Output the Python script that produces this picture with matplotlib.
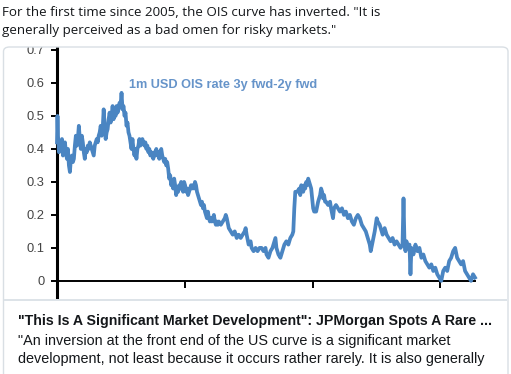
import numpy as np
import matplotlib.pyplot as plt
from matplotlib.patches import FancyBboxPatch, Rectangle

# 1m USD OIS rate 3y fwd - 2y fwd (x in business days from start)
days = [0, 1, 2, 4, 6, 8, 10, 12, 14, 16, 18, 20, 22, 24, 26, 28, 30, 32, 34, 36,
        38, 40, 42, 44, 46, 48, 50, 52, 54, 56, 58, 60, 62, 64, 66, 68, 70, 72, 74, 76,
        78, 80, 82, 84, 86, 88, 90, 92, 94, 96, 98, 100, 102, 104, 106, 108, 110, 112, 114, 116,
        118, 120, 122, 124, 126, 128, 130, 132, 134, 136, 138, 140, 142, 144, 146, 148, 150, 152, 154, 156,
        158, 160, 162, 164, 166, 168, 170, 172, 174, 176, 178, 180, 182, 184, 186, 188, 190, 192, 194, 196,
        198, 200, 202, 204, 206, 208, 210, 212, 214, 216, 218, 220, 222, 224, 226, 228, 230, 232, 234, 236,
        238, 240, 242, 244, 246, 248, 250, 252, 254, 256, 258, 260, 262, 264, 266, 268, 270, 272, 274, 276,
        278, 280, 282, 284, 286, 288, 290, 292, 294, 296, 298, 300, 302, 304, 306, 308, 310, 312, 314, 316,
        318, 320, 322, 324, 326, 330, 334, 338, 340, 342, 346, 350, 354, 358, 362, 366, 370, 374, 378, 380,
        382, 386, 390, 392, 396, 400, 404, 408, 412, 416, 420, 422, 426, 430, 434, 438, 440, 442, 446, 450,
        454, 458, 462, 466, 470, 474, 476, 478, 480, 484, 488, 490, 492, 494, 496, 498, 500, 502, 504, 506,
        508, 510, 512, 514, 516, 518, 522, 526, 530, 532, 534, 536, 538, 540, 542, 546, 550, 552, 556, 558,
        562, 566, 570, 574, 578, 582, 586, 590, 594, 598, 602, 606, 610, 614, 618, 622, 626, 630, 632, 636,
        640, 644, 646, 650, 654, 656, 660, 664, 668, 672, 676, 680, 684, 688, 692, 696, 698, 700, 702, 704,
        706, 710, 712, 714, 718, 722, 726, 730, 734, 738, 742, 746, 750, 754, 758, 762, 766, 770, 774, 778,
        782, 786, 790, 794, 798, 802, 806, 810, 814, 818, 822, 826, 830, 834, 838, 842]
ois = [0.42, 0.50, 0.44, 0.39, 0.42, 0.40, 0.43, 0.38, 0.41, 0.42, 0.39, 0.37, 0.40, 0.35, 0.33, 0.37, 0.38, 0.36, 0.37, 0.41,
       0.44, 0.41, 0.43, 0.47, 0.43, 0.40, 0.44, 0.42, 0.39, 0.37, 0.40, 0.39, 0.41, 0.40, 0.42, 0.41, 0.40, 0.39, 0.38, 0.41,
       0.42, 0.43, 0.42, 0.44, 0.45, 0.47, 0.44, 0.46, 0.52, 0.47, 0.43, 0.45, 0.46, 0.49, 0.51, 0.48, 0.50, 0.53, 0.49, 0.51,
       0.50, 0.53, 0.51, 0.52, 0.54, 0.53, 0.57, 0.52, 0.53, 0.50, 0.51, 0.47, 0.48, 0.45, 0.44, 0.42, 0.40, 0.43, 0.40, 0.38,
       0.40, 0.37, 0.40, 0.41, 0.43, 0.41, 0.42, 0.43, 0.42, 0.41, 0.42, 0.40, 0.41, 0.39, 0.40, 0.38, 0.39, 0.38, 0.37, 0.39,
       0.38, 0.40, 0.38, 0.39, 0.37, 0.39, 0.40, 0.38, 0.37, 0.36, 0.37, 0.35, 0.36, 0.34, 0.31, 0.32, 0.29, 0.30, 0.28, 0.31,
       0.29, 0.26, 0.28, 0.27, 0.29, 0.28, 0.30, 0.28, 0.27, 0.30, 0.29, 0.27, 0.28, 0.26, 0.27, 0.28, 0.29, 0.28, 0.29, 0.28,
       0.30, 0.29, 0.27, 0.26, 0.25, 0.24, 0.23, 0.24, 0.22, 0.23, 0.21, 0.20, 0.19, 0.21, 0.19, 0.18, 0.19, 0.18, 0.19, 0.20,
       0.18, 0.17, 0.18, 0.17, 0.18, 0.17, 0.18, 0.19, 0.20, 0.19, 0.16, 0.15, 0.14, 0.15, 0.13, 0.14, 0.13, 0.14, 0.15, 0.16,
       0.14, 0.11, 0.12, 0.10, 0.09, 0.10, 0.09, 0.10, 0.10, 0.09, 0.10, 0.08, 0.07, 0.09, 0.10, 0.12, 0.13, 0.10, 0.08, 0.07,
       0.09, 0.11, 0.12, 0.11, 0.13, 0.14, 0.15, 0.22, 0.27, 0.27, 0.28, 0.26, 0.29, 0.28, 0.27, 0.29, 0.28, 0.30, 0.29, 0.31,
       0.30, 0.29, 0.28, 0.25, 0.22, 0.21, 0.21, 0.24, 0.26, 0.28, 0.27, 0.25, 0.26, 0.24, 0.24, 0.23, 0.24, 0.22, 0.19, 0.22,
       0.23, 0.22, 0.21, 0.22, 0.20, 0.21, 0.19, 0.20, 0.18, 0.17, 0.19, 0.20, 0.19, 0.17, 0.16, 0.15, 0.13, 0.11, 0.09, 0.12,
       0.15, 0.19, 0.18, 0.17, 0.15, 0.14, 0.16, 0.14, 0.13, 0.12, 0.13, 0.11, 0.12, 0.11, 0.10, 0.11, 0.25, 0.11, 0.09, 0.12,
       0.10, 0.11, 0.02, 0.10, 0.08, 0.11, 0.09, 0.10, 0.07, 0.08, 0.06, 0.05, 0.04, 0.05, 0.03, 0.04, 0.02, 0.01, 0.00, 0.03,
       0.04, 0.03, 0.06, 0.07, 0.09, 0.10, 0.07, 0.06, 0.05, 0.06, 0.03, 0.02, 0.01, 0.00, 0.02, 0.01]

yticks = [0, 0.1, 0.2, 0.3, 0.4, 0.5, 0.6, 0.7]
ytick_labels = ['0', '0.1', '0.2', '0.3', '0.4', '0.5', '0.6', '0.7']
year_ticks = [258, 516, 772]

tweet_lines = ['For the first time since 2005, the OIS curve has inverted. "It is',
               'generally perceived as a bad omen for risky markets."']
card_title = '"This Is A Significant Market Development": JPMorgan Spots A Rare ...'
card_desc = ['"An inversion at the front end of the US curve is a significant market',
             'development, not least because it occurs rather rarely. It is also generally']
series_label = '1m USD OIS rate 3y fwd-2y fwd'

W, H = 511, 374
fig = plt.figure(figsize=(W / 100, H / 100), dpi=100)
fig.patch.set_facecolor('white')

def fx(px):
    return px / W

def fy(py):
    return 1 - py / H

# chart area: top of card (y=47) to divider (y=300)
ax = fig.add_axes([fx(57), fy(300), fx(475) - fx(57), fy(47) - fy(300)])
ax.plot(days, ois, color='#4a85c2', lw=2.7, solid_joinstyle='round', clip_on=False, zorder=3)
ax.set_xlim(0, 842)
ax.set_ylim(-0.058, 0.709)
ax.set_facecolor('none')

for s in ['top', 'right']:
    ax.spines[s].set_visible(False)
ax.spines['bottom'].set_position(('data', 0))
ax.spines['bottom'].set_linewidth(1.4)
ax.spines['left'].set_linewidth(2.2)

ax.set_yticks(yticks)
ax.set_yticklabels(ytick_labels, fontsize=9.3, color='#444444', family='Liberation Sans')
ax.tick_params(axis='y', length=4, width=1.4, pad=5, direction='out')
ax.set_xticks(year_ticks)
ax.set_xticklabels([])
ax.tick_params(axis='x', length=5, width=1.4, direction='out')

ax.text(146, 0.585, series_label, color='#5588c4', fontsize=9.2,
        family='Liberation Sans', fontweight='bold', alpha=0.9)

# white mask above the card, cuts the top label
fig.patches.append(Rectangle((0, fy(47)), 1, 1 - fy(47), transform=fig.transFigure,
                             facecolor='white', edgecolor='none', zorder=5))
# card outline and divider
fig.patches.append(FancyBboxPatch((fx(3.5), fy(390)), fx(508) - fx(3.5), fy(47) - fy(390),
                                  boxstyle='round,pad=0,rounding_size=0.012',
                                  transform=fig.transFigure, facecolor='none',
                                  edgecolor='#d9dfe4', lw=1.0, zorder=6))
fig.patches.append(Rectangle((fx(4), fy(300.5)), fx(507) - fx(4), 0.0027, transform=fig.transFigure,
                             facecolor='#dde3e8', edgecolor='none', zorder=6))
fig.patches.append(Rectangle((fx(4), fy(374)), fx(507) - fx(4), fy(301) - fy(374),
                             transform=fig.transFigure, facecolor='white', edgecolor='none', zorder=5.5))

for i, line in enumerate(tweet_lines):
    fig.text(fx(2), fy(12 + 18.5 * i), line, fontsize=9.6, color='#14171a', family='Open Sans',
             va='center', ha='left', zorder=7)

fig.text(fx(18), fy(321), card_title, fontsize=10.15, color='#14171a', fontweight='bold',
         family='Liberation Sans', va='center', ha='left', zorder=7)
for i, line in enumerate(card_desc):
    fig.text(fx(18), fy(341 + 17.5 * i), line, fontsize=10.4, color='#14171a',
             family='Liberation Sans', va='center', ha='left', zorder=7)

fig.savefig('out.png', dpi=100)
